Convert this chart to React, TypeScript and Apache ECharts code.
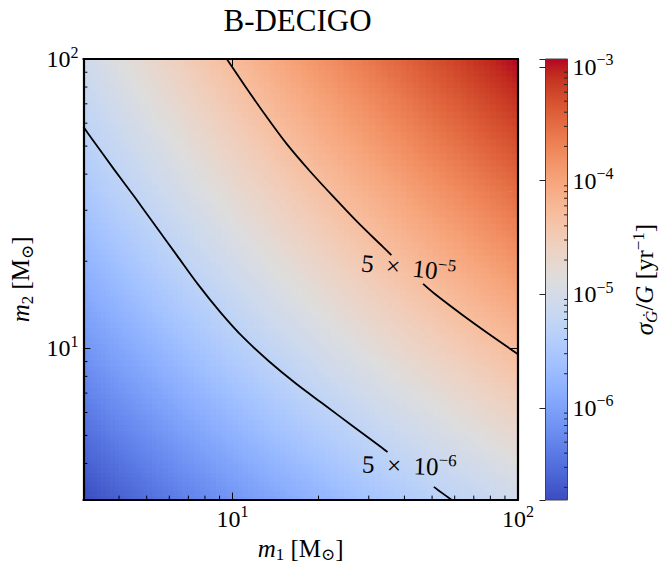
import React, { useEffect, useRef } from 'react';
import * as echarts from 'echarts';

// ---- data ----
// grid nodes (solar masses) for both m1 (columns) and m2 (rows)
const M_NODES = [3, 4, 5, 7, 10, 14, 20, 30, 45, 70, 100];
// log10(sigma_Gdot/G [1/yr]) at the nodes; rows = m2 index, columns = m1 index
const LOG10_SIGMA = [
  [-6.81, -6.64, -6.52, -6.33, -6.14, -5.97, -5.79, -5.59, -5.40, -5.22, -5.08],
  [-6.64, -6.47, -6.34, -6.15, -5.96, -5.78, -5.60, -5.39, -5.21, -5.03, -4.88],
  [-6.52, -6.34, -6.21, -6.02, -5.82, -5.64, -5.45, -5.25, -5.07, -4.88, -4.73],
  [-6.33, -6.15, -6.02, -5.82, -5.62, -5.43, -5.24, -5.05, -4.86, -4.66, -4.50],
  [-6.14, -5.96, -5.82, -5.62, -5.41, -5.22, -5.03, -4.83, -4.63, -4.43, -4.27],
  [-5.97, -5.78, -5.64, -5.43, -5.22, -5.03, -4.84, -4.63, -4.43, -4.22, -4.06],
  [-5.79, -5.60, -5.45, -5.24, -5.03, -4.84, -4.65, -4.43, -4.22, -4.01, -3.84],
  [-5.59, -5.39, -5.25, -5.05, -4.83, -4.63, -4.43, -4.21, -4.00, -3.78, -3.60],
  [-5.40, -5.21, -5.07, -4.86, -4.63, -4.43, -4.22, -4.00, -3.78, -3.55, -3.37],
  [-5.22, -5.03, -4.88, -4.66, -4.43, -4.22, -4.01, -3.78, -3.55, -3.31, -3.12],
  [-5.08, -4.88, -4.73, -4.50, -4.27, -4.06, -3.84, -3.60, -3.37, -3.12, -2.93],
];
// contour 5e-6 (two pieces, gap for the inline label)
const C6_A = [[3, 58.3], [3.24, 52.4], [3.83, 41.7], [4.55, 33.2], [5.38, 26.4], [6.37, 21.0], [7.54, 16.7], [9.02, 13.4], [10.9, 10.9], [13.4, 9.02], [16.7, 7.54], [21.0, 6.37], [26.4, 5.38], [33.2, 4.55], [34.9, 4.38]];
const C6_B = [[50.7, 3.32], [52.4, 3.24], [58.3, 3.0]];
// contour 5e-5
const C5_A = [[9.54, 100], [11.05, 80.7], [13.04, 63.9], [15.47, 50.9], [18.6, 41.1], [22.5, 33.5], [27.35, 27.35], [33.5, 22.5], [36.0, 21.0]];
const C5_B = [[46.5, 16.7], [50.9, 15.47], [63.9, 13.04], [80.7, 11.05], [100, 9.54]];
// inline contour labels
const LABEL_POS = [[41.6, 3.93], [41.3, 19.0]];
const LABEL_MANT = [5, 5];
const LABEL_EXP = [-6, -5];
const LABEL_ROT = [-2, -6];
// minor tick positions on the mass axes
const MINOR_M = [4, 5, 6, 7, 8, 9, 20, 30, 40, 50, 60, 70, 80, 90];
const CB_MINOR_MANT = [2, 3, 4, 5, 6, 7, 8, 9];
const CB_DECADES = [-7, -6, -5, -4, -3];

// matplotlib coolwarm (33 samples)
const COOLWARM = [
  [59, 76, 192], [68, 90, 204], [77, 104, 215], [87, 117, 225], [98, 130, 234], [108, 142, 241],
  [119, 154, 247], [130, 165, 251], [141, 176, 254], [152, 185, 255], [163, 194, 255], [174, 201, 253],
  [184, 208, 249], [194, 213, 244], [204, 217, 238], [213, 219, 230], [221, 221, 221], [229, 216, 209],
  [236, 211, 197], [241, 204, 184], [245, 196, 169], [247, 187, 155], [247, 177, 140], [247, 166, 125],
  [244, 154, 111], [241, 141, 97], [236, 127, 83], [229, 112, 70], [222, 96, 58], [213, 80, 47],
  [203, 62, 38], [192, 40, 30], [180, 4, 38],
];

const FONT = "'Liberation Serif', 'DejaVu Serif', serif";

function cmap(t: number): string {
  const tt = Math.max(0, Math.min(1, t)) * (COOLWARM.length - 1);
  const lo = Math.min(Math.floor(tt), COOLWARM.length - 2);
  const f = tt - lo;
  const a = COOLWARM[lo], b = COOLWARM[lo + 1];
  const c = [0, 1, 2].map((k) => Math.round(a[k] + (b[k] - a[k]) * f));
  return `rgb(${c[0]},${c[1]},${c[2]})`;
}

const allZ = LOG10_SIGMA.flat();
const Z_MIN = Math.min(...allZ);
const Z_MAX = Math.max(...allZ);
const VMIN = Math.pow(10, Z_MIN);
const VMAX = Math.pow(10, Z_MAX);

function expLabel(v: number): string {
  const e = Math.log10(v);
  const r = Math.round(e);
  if (Math.abs(e - r) > 1e-6) return '';
  const s = r < 0 ? '\u2212' + -r : String(r);
  return `{b|10}{s|${s}}`;
}

const tickRich = {
  b: { fontSize: 24, lineHeight: 30, fontFamily: FONT, color: '#000' },
  s: { fontSize: 16, lineHeight: 16, verticalAlign: 'top', fontFamily: FONT, color: '#000' },
};

const nameRich = {
  i: { fontSize: 25, lineHeight: 30, fontStyle: 'italic', fontFamily: FONT, color: '#000' },
  r: { fontSize: 25, lineHeight: 30, fontFamily: FONT, color: '#000' },
  sub: { fontSize: 17, lineHeight: 17, verticalAlign: 'bottom', fontFamily: FONT, color: '#000' },
  subi: { fontSize: 17, lineHeight: 17, verticalAlign: 'bottom', fontStyle: 'italic', fontFamily: FONT, color: '#000' },
  sup: { fontSize: 17, lineHeight: 17, verticalAlign: 'top', fontFamily: FONT, color: '#000' },
};

const NS = 8;

export default function App() {
  const ref = useRef<HTMLDivElement>(null);
  useEffect(() => {
    if (!ref.current) return;
    const chart = echarts.init(ref.current, undefined, { renderer: 'svg' });

    const cells: number[][] = [];
    for (let j = 0; j < M_NODES.length - 1; j++) {
      for (let i = 0; i < M_NODES.length - 1; i++) {
        cells.push([M_NODES[i], M_NODES[j], i, j]);
      }
    }

    const fieldRender = (params: any, api: any) => {
      const i = api.value(2);
      const j = api.value(3);
      const p0 = api.coord([M_NODES[i], M_NODES[j]]);
      const p1 = api.coord([M_NODES[i + 1], M_NODES[j + 1]]);
      const w = p1[0] - p0[0];
      const h = p0[1] - p1[1];
      const z00 = LOG10_SIGMA[j][i], z10 = LOG10_SIGMA[j][i + 1];
      const z01 = LOG10_SIGMA[j + 1][i], z11 = LOG10_SIGMA[j + 1][i + 1];
      const children: any[] = [];
      for (let a = 0; a < NS; a++) {
        for (let b = 0; b < NS; b++) {
          const tx = (a + 0.5) / NS, ty = (b + 0.5) / NS;
          const z = z00 * (1 - tx) * (1 - ty) + z10 * tx * (1 - ty) + z01 * (1 - tx) * ty + z11 * tx * ty;
          children.push({
            type: 'rect',
            shape: { x: p0[0] + (a * w) / NS, y: p0[1] - ((b + 1) * h) / NS, width: w / NS + 0.7, height: h / NS + 0.7 },
            style: { fill: cmap((z - Z_MIN) / (Z_MAX - Z_MIN)) },
          });
        }
      }
      return { type: 'group', children };
    };

    const axisLineStyle = { show: true, onZero: false, lineStyle: { color: '#000', width: 2.2 } };
    const majorTick = { show: true, inside: true, length: 7, lineStyle: { color: '#000', width: 1 } };

    const cbMinor: number[][] = [];
    CB_DECADES.forEach((e) => {
      CB_MINOR_MANT.forEach((k) => {
        const v = k * Math.pow(10, e);
        if (v > VMIN && v < VMAX) cbMinor.push([1, v]);
      });
    });

    const contourLine = (data: number[][]) => ({
      type: 'line',
      xAxisIndex: 0,
      yAxisIndex: 0,
      data,
      smooth: 0.3,
      symbol: 'none',
      silent: true,
      clip: true,
      z: 5,
      lineStyle: { color: '#000', width: 1.8 },
    });

    const option: any = {
      animation: false,
      backgroundColor: '#fff',
      graphic: [
        {
          type: 'text',
          x: 297.5,
          y: 5,
          style: { text: 'B-DECIGO', fontSize: 31, fontFamily: FONT, fill: '#000', align: 'center', verticalAlign: 'top' },
        },
      ],
      grid: [
        { left: 77, top: 59, width: 441, height: 441 },
        { left: 545.5, top: 59, width: 22, height: 441 },
      ],
      xAxis: [
        {
          type: 'log', gridIndex: 0, min: 3, max: 100, position: 'bottom', z: 10,
          axisLine: axisLineStyle, axisTick: majorTick,
          axisLabel: { formatter: expLabel, margin: 4, rich: tickRich },
          splitLine: { show: false },
          name: '{i|m}{sub|1}{r| [M}{sub|\u2299}{r|]}',
          nameLocation: 'middle', nameGap: 33,
          nameTextStyle: { fontSize: 25, fontFamily: FONT, color: '#000', rich: nameRich },
        },
        {
          type: 'log', gridIndex: 0, min: 3, max: 100, position: 'top', z: 10,
          axisLine: axisLineStyle, axisTick: majorTick,
          axisLabel: { show: false }, splitLine: { show: false },
        },
        { type: 'value', gridIndex: 1, min: 0, max: 1, show: false },
      ],
      yAxis: [
        {
          type: 'log', gridIndex: 0, min: 3, max: 100, position: 'left', z: 10,
          axisLine: axisLineStyle, axisTick: majorTick,
          axisLabel: { formatter: expLabel, margin: 5, rich: tickRich },
          splitLine: { show: false },
          name: '{i|m}{sub|2}{r| [M}{sub|\u2299}{r|]}',
          nameLocation: 'middle', nameGap: 41, nameRotate: 90,
          nameTextStyle: { fontSize: 25, fontFamily: FONT, color: '#000', rich: nameRich },
        },
        {
          type: 'log', gridIndex: 0, min: 3, max: 100, position: 'right', z: 10,
          axisLine: axisLineStyle, axisTick: majorTick,
          axisLabel: { show: false }, splitLine: { show: false },
        },
        {
          type: 'log', gridIndex: 1, min: VMIN, max: VMAX, position: 'right', z: 10,
          axisLine: { show: false },
          axisTick: { show: true, inside: true, length: 6, lineStyle: { color: '#222', width: 1 } },
          axisLabel: { formatter: expLabel, margin: 5, rich: tickRich },
          splitLine: { show: false },
          name: '{i|\u03c3}{subi|\u0120}{r|/}{i|G}{r| [yr}{sup|\u22121}{r|]}',
          nameLocation: 'middle', nameGap: 62, nameRotate: 90,
          nameTextStyle: { fontSize: 25, fontFamily: FONT, color: '#000', rich: nameRich },
        },
      ],
      series: [
        {
          type: 'custom', xAxisIndex: 0, yAxisIndex: 0, data: cells, encode: { x: 0, y: 1 },
          renderItem: fieldRender, silent: true, z: 1,
        },
        contourLine(C6_A),
        contourLine(C6_B),
        contourLine(C5_A),
        contourLine(C5_B),
        {
          type: 'custom', xAxisIndex: 0, yAxisIndex: 0, silent: true, z: 6,
          data: LABEL_POS.map((p, k) => [p[0], p[1], k]),
          encode: { x: 0, y: 1 },
          renderItem: (params: any, api: any) => {
            const k = api.value(2);
            const p = api.coord([api.value(0), api.value(1)]);
            return {
              type: 'text', x: p[0], y: p[1], rotation: (LABEL_ROT[k] * Math.PI) / 180,
              style: {
                text: `{a|${LABEL_MANT[k]}\u2002\u00d7\u200210}{s|\u2212${-LABEL_EXP[k]}}`,
                rich: {
                  a: { fontSize: 25, lineHeight: 30, fontFamily: FONT, fill: '#000' },
                  s: { fontSize: 17, lineHeight: 17, verticalAlign: 'top', fontFamily: FONT, fill: '#000' },
                },
                align: 'center', verticalAlign: 'middle', fill: '#000',
              },
            };
          },
        },
        {
          type: 'custom', xAxisIndex: 0, yAxisIndex: 0, silent: true, z: 12,
          data: MINOR_M.map((m) => [m, 3]),
          encode: { x: 0, y: 1 },
          renderItem: (params: any, api: any) => {
            const m = api.value(0);
            const pb = api.coord([m, 3]);
            const pl = api.coord([3, m]);
            return {
              type: 'group',
              children: [
                { type: 'line', shape: { x1: pb[0], y1: pb[1], x2: pb[0], y2: pb[1] - 4 }, style: { stroke: '#000', lineWidth: 1 } },
                { type: 'line', shape: { x1: pl[0], y1: pl[1], x2: pl[0] + 4, y2: pl[1] }, style: { stroke: '#000', lineWidth: 1 } },
              ],
            };
          },
        },
        {
          type: 'custom', xAxisIndex: 2, yAxisIndex: 2, silent: true, z: 1,
          data: [[0.5, VMIN]], encode: { x: 0, y: 1 },
          renderItem: (params: any, api: any) => {
            const tl = api.coord([0, VMAX]);
            const br = api.coord([1, VMIN]);
            const n = COOLWARM.length - 1;
            const stops = COOLWARM.map((c, k) => ({ offset: k / n, color: `rgb(${COOLWARM[n - k].join(',')})` }));
            return {
              type: 'rect',
              shape: { x: tl[0], y: tl[1], width: br[0] - tl[0], height: br[1] - tl[1] },
              style: { fill: new echarts.graphic.LinearGradient(0, 0, 0, 1, stops), stroke: '#444', lineWidth: 1 },
            };
          },
        },
        {
          type: 'custom', xAxisIndex: 2, yAxisIndex: 2, silent: true, z: 12,
          data: cbMinor, encode: { x: 0, y: 1 },
          renderItem: (params: any, api: any) => {
            const p = api.coord([1, api.value(1)]);
            return { type: 'line', shape: { x1: p[0], y1: p[1], x2: p[0] - 3.5, y2: p[1] }, style: { stroke: '#222', lineWidth: 1 } };
          },
        },
      ],
    };
    chart.setOption(option);
    return () => chart.dispose();
  }, []);
  return (
    <div
      ref={ref}
      style={{ position: 'fixed', left: 0, top: 0, width: 664, height: 568, background: '#fff' }}
    />
  );
}
